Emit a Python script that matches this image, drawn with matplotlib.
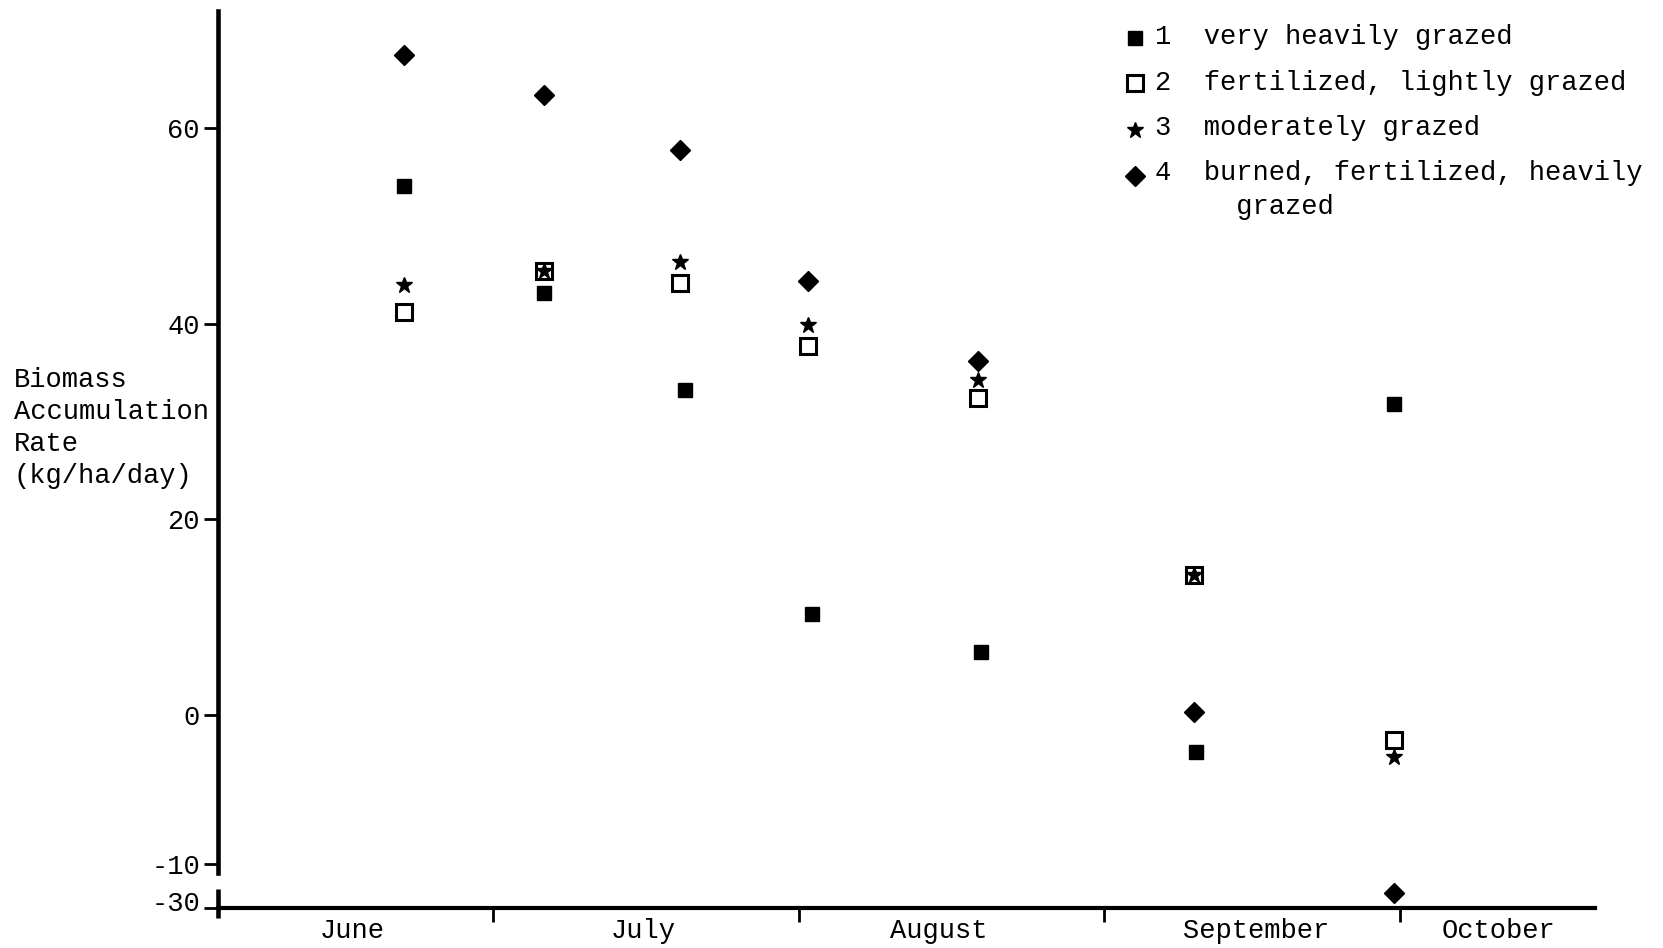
import numpy as np
import matplotlib
matplotlib.use("Agg")
import matplotlib.pyplot as plt
from matplotlib.transforms import ScaledTranslation

# ---------------- data (day of year, values in kg/ha/day) ----------------
dates = [173.0, 187.2, 201.0, 214.0, 231.2, 253.1, 273.4]
dates_s1 = [173.0, 187.2, 201.5, 214.4, 231.5, 253.3, 273.4]
very_heavily_grazed = [54.1, 43.1, 33.2, 10.3, 6.4, -2.5, 31.8]
fertilized_lightly_grazed = [41.2, 45.4, 44.2, 37.7, 32.4, 14.3, -1.7]
moderately_grazed = [44.0, 45.4, 46.3, 39.9, 34.2, 14.3, -2.8]
burned_fertilized_heavily = [67.5, 63.4, 57.8, 44.4, 36.2, 0.3, -23.2]

legend_labels = ["1  very heavily grazed",
                 "2  fertilized, lightly grazed",
                 "3  moderately grazed",
                 "4  burned, fertilized, heavily\n     grazed"]
month_names = ["June", "July", "August", "September", "October"]
month_label_days = [167.7, 197.2, 227.2, 259.4, 284.0]
month_starts = [182, 213, 244, 274]          # July 1, Aug 1, Sep 1, Oct 1
y_ticks = [60, 40, 20, 0, -10, -30]
y_label = "Biomass\nAccumulation\nRate\n(kg/ha/day)"

# ---------------- broken (piecewise) y scale ----------------
_ys = np.array([-60.0, -30.0, -10.0, 0.0, 60.0, 100.0])
_ps = np.array([974.0, 908.0, 864.0, 715.0, 128.0, -263.3])   # px from top


def fwd(y):
    return -np.interp(y, _ys, _ps)


def inv(v):
    return np.interp(-np.asarray(v), _ps[::-1], _ys[::-1])


W, H = 1663, 948
fig = plt.figure(figsize=(W / 100, H / 100), dpi=100)
FONT = "Liberation Mono"
FS = 19.5

x_left, x_right = 218, 1595
ax = fig.add_axes([x_left / W, 30 / H, (x_right - x_left) / W, (937.4 - 30) / H])
ax.set_yscale("function", functions=(fwd, inv))
ax.set_ylim(-34.5, 72)
ax.set_xlim(154.1, 293.8)

ms_kw = dict(linestyle="none", color="black", clip_on=False)
ax.plot(dates_s1, very_heavily_grazed, marker="s", markersize=10.5,
        label=legend_labels[0], **ms_kw)
ax.plot(dates, fertilized_lightly_grazed, marker="s", markersize=12,
        markerfacecolor="white", markeredgewidth=2.2, label=legend_labels[1], **ms_kw)
ax.plot(dates, moderately_grazed, marker="*", markersize=12,
        label=legend_labels[2], **ms_kw)
ax.plot(dates, burned_fertilized_heavily, marker="D", markersize=10,
        label=legend_labels[3], **ms_kw)

# spines
for s in ["top", "right"]:
    ax.spines[s].set_visible(False)
ax.spines["left"].set_linewidth(3.3)
ax.spines["left"].set_bounds(-14.1, 72)
ax.spines["bottom"].set_position(("data", -30))
ax.spines["bottom"].set_linewidth(3.0)
# lower stub of the broken y axis
x0 = ax.get_xlim()[0]
ax.plot([x0, x0], [-21.4, -34.5], color="black", lw=3.3,
        solid_capstyle="butt", clip_on=False)

# y ticks
ax.set_yticks(y_ticks)
ax.set_yticklabels([str(t) for t in y_ticks])
ax.tick_params(axis="y", direction="out", length=10, width=2, pad=3,
               labelsize=FS)
ax.yaxis.set_minor_locator(matplotlib.ticker.NullLocator())

# x ticks: boundaries as major ticks, month names as minor tick labels
ax.set_xticks(month_starts)
ax.set_xticklabels([""] * len(month_starts))
ax.tick_params(axis="x", which="major", direction="out", length=10, width=2)
ax.set_xticks(month_label_days, minor=True)
ax.set_xticklabels(month_names, minor=True)
ax.tick_params(axis="x", which="minor", length=0, pad=7, labelsize=FS)

for lab in ax.get_xticklabels(minor=True) + ax.get_yticklabels():
    lab.set_fontfamily(FONT)

# lift the "-30" label slightly above the axis line, as in the original
lab30 = ax.get_yticklabels()[-1]
lab30.set_transform(lab30.get_transform() +
                    ScaledTranslation(0, 0.07, fig.dpi_scale_trans))

fig.text(14 / W, 1 - 428 / H, y_label, ha="left", va="center",
         fontsize=FS, family=FONT, linespacing=1.3, multialignment="left")

leg = ax.legend(loc="upper left", bbox_to_anchor=(1124 / W, 1 - 24 / H),
                bbox_transform=fig.transFigure, frameon=False,
                prop={"family": FONT, "size": FS}, handlelength=0.8,
                handletextpad=0.35, labelspacing=0.72, borderpad=0,
                borderaxespad=0, numpoints=1)
for t in leg.get_texts():
    t.set_linespacing(1.4)
# markers sit slightly below the text line; the diamond goes with the first line
shifts = [-2.5, -2.5, -3.0, 0.7 * FS - 3.0]
for h, dy in zip(leg.legend_handles, shifts):
    h.set_ydata(np.asarray(h.get_ydata()) + dy)

fig.savefig("out.png", dpi=100, facecolor="white")
